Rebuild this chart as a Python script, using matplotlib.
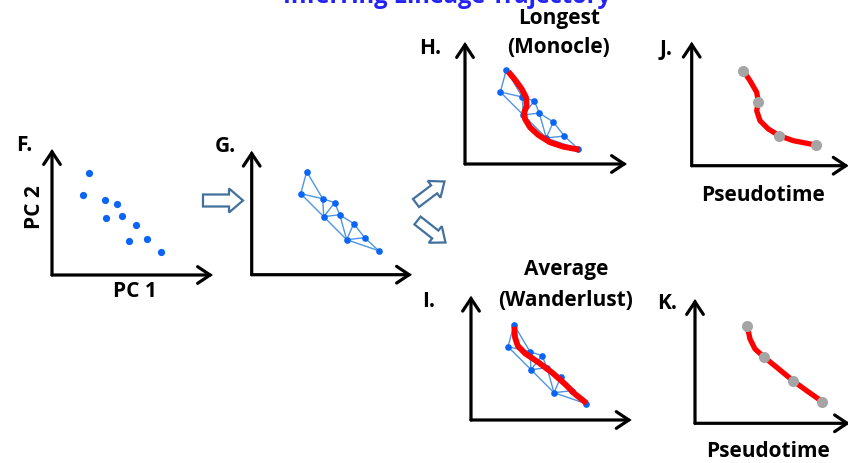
import matplotlib
matplotlib.use("Agg")
import matplotlib.pyplot as plt
from matplotlib.patches import FancyArrow

plt.rcParams['font.family'] = ['Open Sans', 'DejaVu Sans']

W, H = 848, 464

# cell positions (PC1, PC2), shared by panels F, G, H, I
pc1 = [55, 49, 71, 83, 72, 88, 102, 95, 113, 127]
pc2 = [103, 81, 76, 72, 58, 60, 51, 35, 37, 24]

# kNN graph edges between cells (index pairs)
edges = [(0, 1), (0, 2), (1, 2), (1, 4), (2, 3), (2, 4), (3, 4), (3, 5), (4, 5),
         (5, 6), (4, 7), (5, 7), (6, 7), (6, 8), (7, 8), (7, 9), (8, 9)]

# longest path trajectory (Monocle)
longest_x = [57, 63.7, 70.4, 74.7, 75.4, 73, 73.7, 78.7, 87, 98.7, 112, 128]
longest_y = [101.3, 93.3, 84, 75.7, 67.3, 60.7, 54, 45.7, 38, 30.7, 26.3, 23.3]

# average trajectory (Wanderlust)
average_x = [55.3, 56, 58.7, 66, 79.3, 92.7, 106, 116, 127.7]
average_y = [101, 90.4, 82, 74.4, 65.4, 55.4, 43.7, 33.7, 24.4]

# pseudotime curves and ordered cells
j_curve_x = [51.6, 58.3, 65, 66.6, 65, 68.3, 76.6, 87.6, 101.6, 124]
j_curve_y = [95, 85, 73.4, 64, 55, 45, 36.7, 30, 25, 20.7]
j_cells_x = [51.6, 66.6, 87.6, 124]
j_cells_y = [95, 64, 30, 20.7]

k_curve_x = [52.3, 55, 60, 69, 81.7, 98.3, 111.7, 127.3]
k_curve_y = [97, 84.3, 74.3, 66.3, 56, 42.3, 32.6, 21.6]
k_cells_x = [52.3, 69, 98.3, 127.3]
k_cells_y = [97, 66.3, 42.3, 21.6]

NODE = '#0A64F5'
EDGE = '#4F95E3'
RED = '#FF0000'
GREY = '#A5A5A5'
ARROW_EC = '#41719C'
FS = 15

fig = plt.figure(figsize=(W / 100, H / 100), dpi=100)
canvas = fig.add_axes([0, 0, 1, 1])
canvas.set_xlim(0, W)
canvas.set_ylim(H, 0)
canvas.axis('off')


def panel(ox, oy, w, h, x0=0, y0=0):
    """Axes whose lower-left corner sits at pixel (ox, oy), w x h pixels."""
    ax = fig.add_axes([ox / W, (H - oy) / H, w / W, h / H])
    ax.set_xlim(x0, x0 + w)
    ax.set_ylim(y0, y0 + h)
    ax.axis('off')
    style = '->,head_length=0.45,head_width=0.3'
    for tip in [(0, 1), (1, 0)]:
        ax.annotate('', xy=tip, xytext=(0, 0), xycoords='axes fraction',
                    textcoords='axes fraction', annotation_clip=False,
                    arrowprops=dict(arrowstyle=style, lw=2.3, color='black',
                                    shrinkA=0, shrinkB=0, mutation_scale=20,
                                    joinstyle='miter'))
    return ax


def draw_graph(ax):
    for a, b in edges:
        ax.plot([pc1[a], pc1[b]], [pc2[a], pc2[b]], color=EDGE, lw=1.0,
                zorder=2, clip_on=False)
    ax.plot(pc1, pc2, 'o', color=NODE, ms=4.8, mec='none', zorder=3,
            clip_on=False)


bold = dict(fontweight='bold', color='black', fontsize=FS)

# title (cut off at the top, as in the source figure)
canvas.text(447, 3, 'Inferring Lineage Trajectory', ha='center',
            va='baseline', fontsize=FS + 2, fontweight='bold', color='#2323F5')

# F: cells in PC space
ax_f = panel(52, 276, 161, 126, x0=17.6, y0=1.3)
ax_f.plot(pc1, pc2, 'o', color=NODE, ms=5.2, mec='none', clip_on=False)
canvas.text(24, 146, 'F.', ha='center', va='center', **bold)
canvas.text(35, 207, 'PC 2', ha='center', va='center', rotation=90, **bold)
canvas.text(135, 292, 'PC 1', ha='center', va='center', **bold)

# G: kNN graph
ax_g = panel(251.7, 275.7, 160.3, 124)
draw_graph(ax_g)
canvas.text(225, 147, 'G.', ha='center', va='center', **bold)

# H: longest path
ax_h = panel(465, 165, 162, 122, x0=13.7, y0=9)
draw_graph(ax_h)
ax_h.plot(longest_x, longest_y, color=RED, lw=4.2, solid_capstyle='butt',
          solid_joinstyle='round', zorder=4, clip_on=False)
canvas.text(430, 48, 'H.', ha='center', va='center', **bold)
canvas.text(559, 18.5, 'Longest', ha='center', va='center', **bold)
canvas.text(559, 47.5, '(Monocle)', ha='center', va='center', **bold)

# I: average path
ax_i = panel(471, 421, 160.7, 124.3, x0=12, y0=7.7)
draw_graph(ax_i)
ax_i.plot(average_x, average_y, color=RED, lw=4.2, solid_capstyle='butt',
          solid_joinstyle='round', zorder=4, clip_on=False)
canvas.text(429, 302, 'I.', ha='center', va='center', **bold)
canvas.text(566, 270, 'Average', ha='center', va='center', **bold)
canvas.text(566, 301, '(Wanderlust)', ha='center', va='center', **bold)

# J, K: pseudotime orderings
ax_j = panel(691.7, 166.7, 157, 124)
ax_j.plot(j_curve_x, j_curve_y, color=RED, lw=3.8, solid_joinstyle='round',
          zorder=2, clip_on=False)
ax_j.plot(j_cells_x, j_cells_y, 'o', color=GREY, ms=8, mec='none', zorder=3,
          clip_on=False)
canvas.text(666, 49, 'J.', ha='center', va='center', **bold)
canvas.text(763, 196, 'Pseudotime', ha='center', va='center', **bold)

ax_k = panel(695, 424.3, 155, 124.3)
ax_k.plot(k_curve_x, k_curve_y, color=RED, lw=3.8, solid_joinstyle='round',
          zorder=2, clip_on=False)
ax_k.plot(k_cells_x, k_cells_y, 'o', color=GREY, ms=8, mec='none', zorder=3,
          clip_on=False)
canvas.text(667, 304, 'K.', ha='center', va='center', **bold)
canvas.text(768, 452, 'Pseudotime', ha='center', va='center', **bold)

# hollow block arrows between steps
for x, y, dx, dy, wd, hw, hl in [(203, 201.5, 40, 0, 12, 24, 14),
                                  (416, 204, 28.5, -21.5, 10, 21, 13),
                                  (417.5, 221.5, 28, 22, 10, 21, 13)]:
    canvas.add_patch(FancyArrow(x, y, dx, dy, width=wd, head_width=hw,
                                head_length=hl, length_includes_head=True,
                                fc='white', ec=ARROW_EC, lw=1.6))

fig.savefig('out.png', dpi=100)
